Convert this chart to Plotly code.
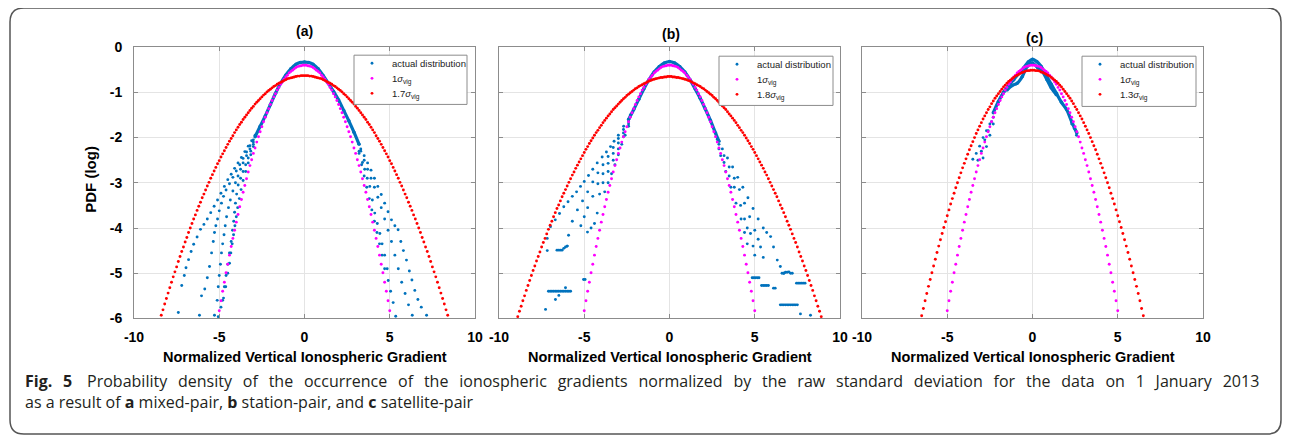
import plotly.graph_objects as go

W, H = 1290, 437
# Measured on earlier renders: the page shows the figure's paper area from
# window pixel 17 to 17 + (W - 18) horizontally and likewise vertically.
# All positions below are reference-window pixels mapped through that.
OX, OY = 17, 17
PW, PH = W - 18, H - 18


def px(x):
    return (x - OX) / PW


def py(y):
    return 1 - (y - OY) / PH


# ---------------- data ----------------
X_TICKS = [-10, -5, 0, 5, 10]
X_TICK_TEXT = ["-10", "-5", "0", "5", "10"]
Y_TICKS = [0, -1, -2, -3, -4, -5, -6]
Y_TICK_TEXT = ["0", "-1", "-2", "-3", "-4", "-5", "-6"]

# normalized gradient grid (dots of the reference Gaussian curves)
X_GRID = [
    -8.9, -8.8, -8.7, -8.6, -8.5, -8.4, -8.3, -8.2, -8.1, -8.0,
    -7.9, -7.8, -7.7, -7.6, -7.5, -7.4, -7.3, -7.2, -7.1, -7.0,
    -6.9, -6.8, -6.7, -6.6, -6.5, -6.4, -6.3, -6.2, -6.1, -6.0,
    -5.9, -5.8, -5.7, -5.6, -5.5, -5.4, -5.3, -5.2, -5.1, -5.0,
    -4.9, -4.8, -4.7, -4.6, -4.5, -4.4, -4.3, -4.2, -4.1, -4.0,
    -3.9, -3.8, -3.7, -3.6, -3.5, -3.4, -3.3, -3.2, -3.1, -3.0,
    -2.9, -2.8, -2.7, -2.6, -2.5, -2.4, -2.3, -2.2, -2.1, -2.0,
    -1.9, -1.8, -1.7, -1.6, -1.5, -1.4, -1.3, -1.2, -1.1, -1.0,
    -0.9, -0.8, -0.7, -0.6, -0.5, -0.4, -0.3, -0.2, -0.1, 0.0,
    0.1, 0.2, 0.3, 0.4, 0.5, 0.6, 0.7, 0.8, 0.9, 1.0,
    1.1, 1.2, 1.3, 1.4, 1.5, 1.6, 1.7, 1.8, 1.9, 2.0,
    2.1, 2.2, 2.3, 2.4, 2.5, 2.6, 2.7, 2.8, 2.9, 3.0,
    3.1, 3.2, 3.3, 3.4, 3.5, 3.6, 3.7, 3.8, 3.9, 4.0,
    4.1, 4.2, 4.3, 4.4, 4.5, 4.6, 4.7, 4.8, 4.9, 5.0,
    5.1, 5.2, 5.3, 5.4, 5.5, 5.6, 5.7, 5.8, 5.9, 6.0,
    6.1, 6.2, 6.3, 6.4, 6.5, 6.6, 6.7, 6.8, 6.9, 7.0,
    7.1, 7.2, 7.3, 7.4, 7.5, 7.6, 7.7, 7.8, 7.9, 8.0,
    8.1, 8.2, 8.3, 8.4, 8.5, 8.6, 8.7, 8.8, 8.9,
]

# 1 sigma_vig curve (same in all panels), x from -5.0 to 5.0
Y_1SIG = [
    -5.83, -5.61, -5.40, -5.20, -4.99, -4.80, -4.60, -4.41, -4.23, -4.05,
    -3.87, -3.70, -3.53, -3.37, -3.21, -3.06, -2.91, -2.76, -2.62, -2.49,
    -2.35, -2.23, -2.10, -1.98, -1.87, -1.76, -1.65, -1.55, -1.45, -1.36,
    -1.27, -1.18, -1.10, -1.03, -0.95, -0.89, -0.82, -0.77, -0.71, -0.66,
    -0.62, -0.57, -0.54, -0.51, -0.48, -0.45, -0.43, -0.42, -0.41, -0.40,
    -0.40,
    -0.40, -0.41, -0.42, -0.43, -0.45, -0.48, -0.51, -0.54, -0.57, -0.62,
    -0.66, -0.71, -0.77, -0.82, -0.89, -0.95, -1.03, -1.10, -1.18, -1.27,
    -1.36, -1.45, -1.55, -1.65, -1.76, -1.87, -1.98, -2.10, -2.23, -2.35,
    -2.49, -2.62, -2.76, -2.91, -3.06, -3.21, -3.37, -3.53, -3.70, -3.87,
    -4.05, -4.23, -4.41, -4.60, -4.80, -4.99, -5.20, -5.40, -5.61, -5.83,
]

# 1.7 sigma_vig curve (panel a), x from -8.4 to 8.4
Y_17SIG = [
    -5.93, -5.81, -5.68, -5.56, -5.44,
    -5.32, -5.20, -5.08, -4.97, -4.86, -4.74, -4.63, -4.52, -4.42, -4.31,
    -4.21, -4.10, -4.00, -3.90, -3.80, -3.71, -3.61, -3.52, -3.43, -3.33,
    -3.25, -3.16, -3.07, -2.99, -2.90, -2.82, -2.74, -2.66, -2.58, -2.51,
    -2.43, -2.36, -2.29, -2.22, -2.15, -2.08, -2.02, -1.96, -1.89, -1.83,
    -1.77, -1.71, -1.66, -1.60, -1.55, -1.50, -1.45, -1.40, -1.35, -1.31,
    -1.26, -1.22, -1.18, -1.14, -1.10, -1.06, -1.03, -0.99, -0.96, -0.93,
    -0.90, -0.87, -0.85, -0.82, -0.80, -0.78, -0.76, -0.74, -0.72, -0.70,
    -0.69, -0.68, -0.67, -0.66, -0.65, -0.64, -0.64, -0.63, -0.63,
    -0.63,
    -0.63, -0.63, -0.64, -0.64, -0.65, -0.66, -0.67, -0.68, -0.69,
    -0.70, -0.72, -0.74, -0.76, -0.78, -0.80, -0.82, -0.85, -0.87, -0.90,
    -0.93, -0.96, -0.99, -1.03, -1.06, -1.10, -1.14, -1.18, -1.22, -1.26,
    -1.31, -1.35, -1.40, -1.45, -1.50, -1.55, -1.60, -1.66, -1.71, -1.77,
    -1.83, -1.89, -1.96, -2.02, -2.08, -2.15, -2.22, -2.29, -2.36, -2.43,
    -2.51, -2.58, -2.66, -2.74, -2.82, -2.90, -2.99, -3.07, -3.16, -3.25,
    -3.33, -3.43, -3.52, -3.61, -3.71, -3.80, -3.90, -4.00, -4.10, -4.21,
    -4.31, -4.42, -4.52, -4.63, -4.74, -4.86, -4.97, -5.08, -5.20, -5.32,
    -5.44, -5.56, -5.68, -5.81, -5.93,
]

# 1.8 sigma_vig curve (panel b), x from -8.9 to 8.9
Y_18SIG = [
    -5.96, -5.84, -5.73, -5.61, -5.50, -5.38, -5.27, -5.16, -5.05, -4.94,
    -4.84, -4.73, -4.63, -4.53, -4.42, -4.32, -4.23, -4.13, -4.03, -3.94,
    -3.85, -3.75, -3.66, -3.57, -3.49, -3.40, -3.31, -3.23, -3.15, -3.07,
    -2.99, -2.91, -2.83, -2.76, -2.68, -2.61, -2.54, -2.47, -2.40, -2.33,
    -2.26, -2.20, -2.13, -2.07, -2.01, -1.95, -1.89, -1.84, -1.78, -1.73,
    -1.67, -1.62, -1.57, -1.52, -1.48, -1.43, -1.38, -1.34, -1.30, -1.26,
    -1.22, -1.18, -1.14, -1.11, -1.07, -1.04, -1.01, -0.98, -0.95, -0.92,
    -0.90, -0.87, -0.85, -0.83, -0.81, -0.79, -0.77, -0.75, -0.74, -0.72,
    -0.71, -0.70, -0.69, -0.68, -0.67, -0.67, -0.66, -0.66, -0.65,
    -0.65,
    -0.65, -0.66, -0.66, -0.67, -0.67, -0.68, -0.69, -0.70, -0.71,
    -0.72, -0.74, -0.75, -0.77, -0.79, -0.81, -0.83, -0.85, -0.87, -0.90,
    -0.92, -0.95, -0.98, -1.01, -1.04, -1.07, -1.11, -1.14, -1.18, -1.22,
    -1.26, -1.30, -1.34, -1.38, -1.43, -1.48, -1.52, -1.57, -1.62, -1.67,
    -1.73, -1.78, -1.84, -1.89, -1.95, -2.01, -2.07, -2.13, -2.20, -2.26,
    -2.33, -2.40, -2.47, -2.54, -2.61, -2.68, -2.76, -2.83, -2.91, -2.99,
    -3.07, -3.15, -3.23, -3.31, -3.40, -3.49, -3.57, -3.66, -3.75, -3.85,
    -3.94, -4.03, -4.13, -4.23, -4.32, -4.42, -4.53, -4.63, -4.73, -4.84,
    -4.94, -5.05, -5.16, -5.27, -5.38, -5.50, -5.61, -5.73, -5.84, -5.96,
]

# 1.3 sigma_vig curve (panel c), x from -6.5 to 6.5
Y_13SIG = [
    -5.94, -5.78, -5.61, -5.45, -5.29, -5.14,
    -4.99, -4.84, -4.69, -4.54, -4.40, -4.26, -4.12, -3.99, -3.86, -3.73,
    -3.60, -3.47, -3.35, -3.23, -3.11, -3.00, -2.89, -2.78, -2.67, -2.57,
    -2.47, -2.37, -2.27, -2.18, -2.09, -2.00, -1.91, -1.83, -1.75, -1.67,
    -1.59, -1.52, -1.45, -1.38, -1.32, -1.25, -1.19, -1.13, -1.08, -1.03,
    -0.98, -0.93, -0.88, -0.84, -0.80, -0.76, -0.73, -0.70, -0.67, -0.64,
    -0.62, -0.60, -0.58, -0.56, -0.55, -0.53, -0.52, -0.52, -0.51,
    -0.51,
    -0.51, -0.52, -0.52, -0.53, -0.55, -0.56, -0.58, -0.60, -0.62,
    -0.64, -0.67, -0.70, -0.73, -0.76, -0.80, -0.84, -0.88, -0.93, -0.98,
    -1.03, -1.08, -1.13, -1.19, -1.25, -1.32, -1.38, -1.45, -1.52, -1.59,
    -1.67, -1.75, -1.83, -1.91, -2.00, -2.09, -2.18, -2.27, -2.37, -2.47,
    -2.57, -2.67, -2.78, -2.89, -3.00, -3.11, -3.23, -3.35, -3.47, -3.60,
    -3.73, -3.86, -3.99, -4.12, -4.26, -4.40, -4.54, -4.69, -4.84, -4.99,
    -5.14, -5.29, -5.45, -5.61, -5.78, -5.94,
]

X_1SIG = X_GRID[39:140]
X_17SIG = X_GRID[5:174]
X_18SIG = X_GRID
X_13SIG = X_GRID[24:155]

# ---- actual distribution, panel (a) ----
A_CORE_X = [-2.9, -2.6, -2.3, -2.0, -1.7, -1.4, -1.1, -0.8, -0.5, -0.25, 0.0,
            0.25, 0.5, 0.8, 1.1, 1.4, 1.7, 2.0, 2.3, 2.6, 2.9, 3.2]
A_CORE_Y = [-1.98, -1.75, -1.52, -1.27, -1.02, -0.8, -0.62, -0.48, -0.38, -0.34, -0.33,
            -0.34, -0.38, -0.48, -0.63, -0.8, -0.98, -1.17, -1.4, -1.63, -1.88, -2.15]
A_TAIL_X = [
    -2.9, -3.1, -3.3, -3.5, -3.7, -3.9, -4.1, -4.3, -4.5, -4.7, -4.9, -5.1, -5.3,
    -5.5, -5.7, -5.9, -6.1, -6.3, -6.5, -6.65, -6.8, -6.95, -7.05, -7.2, -7.4,
    -3.0, -3.2, -3.4, -3.6, -3.8, -4.0, -4.2, -4.4, -4.6, -4.75, -4.87, -5.0, -5.1,
    -5.2, -5.28, -5.35, -5.45, -5.57, -5.7, -5.85, -6.04, -6.16,
    -3.0, -3.2, -3.4, -3.6, -3.75, -3.9, -4.05, -4.2, -4.35, -4.46, -4.57, -4.65,
    -4.72, -4.8, -4.87, -4.93, -5.0, -5.06, -5.12, -5.28,
    -3.0, -3.15, -3.3, -3.45, -3.6, -3.75, -3.89, -3.98, -4.05, -4.1, -4.15, -4.22,
    -4.3, -4.4, -4.5, -4.6, -4.7, -4.8, -4.9, -5.06,
    -3.0, -3.15, -3.3, -3.45, -3.6, -3.72, -3.82, -3.92, -4.0, -4.08, -4.16, -4.24,
    -4.32, -4.4, -4.5, -4.62, -4.75,
    3.3, 3.5, 3.7, 3.9, 4.1, 4.3, 4.5, 4.7, 4.9, 5.1, 5.3, 5.49, 5.65, 5.8, 5.98,
    6.15, 6.3, 6.47, 6.65, 6.85, 7.16,
    3.3, 3.5, 3.7, 3.9, 4.1, 4.3, 4.5, 4.7, 4.9, 5.1, 5.3, 5.5, 5.7, 5.9, 6.1, 6.32,
    3.2, 3.4, 3.53, 3.68, 3.83, 3.98, 4.12, 4.27, 4.42, 4.55, 4.7, 4.85, 4.91, 5.05,
    5.2, 5.35,
    3.2, 3.35, 3.5, 3.65, 3.8, 3.95, 4.1, 4.25, 4.4, 4.55, 4.7,
]
A_TAIL_Y = [
    -1.95, -2.07, -2.19, -2.31, -2.44, -2.56, -2.68, -2.81, -2.93, -3.08, -3.23, -3.38,
    -3.52, -3.66, -3.8, -3.92, -4.03, -4.2, -4.36, -4.52, -4.7, -4.88, -5.05, -5.27, -5.87,
    -2.05, -2.18, -2.32, -2.46, -2.6, -2.74, -2.88, -3.02, -3.16, -3.3, -3.45, -3.62, -3.8,
    -3.95, -4.1, -4.3, -4.55, -4.85, -5.1, -5.35, -5.5, -5.93,
    -2.1, -2.25, -2.4, -2.56, -2.7, -2.85, -3.0, -3.18, -3.38, -3.55, -3.75, -3.95,
    -4.15, -4.35, -4.55, -4.8, -5.05, -5.3, -5.6, -5.93,
    -2.15, -2.3, -2.45, -2.6, -2.75, -2.9, -3.05, -3.25, -3.45, -3.65, -3.85, -4.05,
    -4.3, -4.55, -4.8, -5.05, -5.3, -5.6, -5.75, -5.96,
    -2.2, -2.38, -2.56, -2.75, -2.95, -3.15, -3.35, -3.55, -3.75, -3.95, -4.15, -4.35,
    -4.55, -4.78, -5.0, -5.3, -5.55,
    -2.25, -2.4, -2.56, -2.72, -2.9, -3.08, -3.26, -3.45, -3.64, -3.82, -3.95, -4.04,
    -4.3, -4.5, -4.71, -4.95, -5.15, -5.38, -5.58, -5.75, -5.93,
    -2.3, -2.5, -2.7, -2.9, -3.1, -3.32, -3.55, -3.8, -4.05, -4.3, -4.6, -4.9, -5.2,
    -5.45, -5.7, -5.93,
    -2.3, -2.55, -2.7, -2.9, -3.08, -3.38, -3.67, -3.9, -4.12, -4.35, -4.6, -4.9,
    -5.16, -5.4, -5.65, -5.95,
    -2.35, -2.6, -2.85, -3.1, -3.35, -3.6, -3.85, -4.1, -4.35, -4.6, -4.9,
]

# ---- actual distribution, panel (b) ----
B_CORE_X = [-2.4, -2.1, -1.8, -1.5, -1.2, -0.9, -0.6, -0.3, 0.0, 0.3, 0.6, 0.9,
            1.2, 1.5, 1.8, 2.1, 2.4, 2.7, 2.9]
B_CORE_Y = [-1.6, -1.38, -1.15, -0.92, -0.72, -0.55, -0.43, -0.35, -0.32, -0.35, -0.43,
            -0.55, -0.72, -0.92, -1.13, -1.37, -1.62, -1.9, -2.08]
B_TAIL_X = [
    -2.3, -2.69, -3.0, -3.25, -3.46, -3.7, -3.95, -4.24, -4.5, -4.75, -5.0, -5.22,
    -5.45, -5.7, -5.95, -6.2, -6.45, -6.7, -6.98, -7.17,
    -2.4, -2.7, -3.0, -3.3, -3.6, -3.9, -4.2, -4.5, -4.8, -5.1, -5.4, -5.7, -5.92, -6.0,
    -2.4, -2.7, -3.0, -3.3, -3.6, -3.9, -4.2, -4.5, -4.8, -5.0, -5.2,
    -2.4, -2.7, -3.0, -3.3, -3.6, -3.9, -4.1, -4.24, -4.4, -4.6, -4.81,
    -2.4, -2.6, -2.8, -3.0, -3.2, -3.4, -3.6, -3.8,
    -7.17, -6.6, -6.5, -6.4, -6.3, -6.2, -6.1, -6.0,
    -7.1, -7.0, -6.9, -6.8, -6.7, -6.6, -6.5, -6.4, -6.3, -6.2, -6.1, -6.0, -5.9, -5.8,
    -7.27, -6.69, -6.49, -6.1, -5.04, -4.95,
    2.8, 3.1, 3.4, 3.7, 4.0, 4.3, 4.6, 4.9, 5.2, 5.5, 5.7, 5.93, 6.1, 6.32, 6.5, 6.71,
    2.9, 3.2, 3.5, 3.8, 4.1, 4.4, 4.7, 5.0, 5.2, 5.34, 5.5,
    2.9, 3.2, 3.5, 3.8, 4.17, 4.4, 4.56, 4.75, 4.9, 5.0,
    3.0, 3.3, 3.6, 3.9, 4.2, 4.4, 4.56,
    4.85, 4.95, 5.05, 5.15, 5.25, 5.4, 5.5, 5.6, 5.7, 5.8, 6.1, 6.2,
    6.6, 6.7, 6.8, 6.9, 7.0, 7.1, 7.2, 7.45, 7.55, 7.65, 7.75, 7.85, 7.95,
    6.5, 6.6, 6.7, 6.8, 6.9, 7.0, 7.1, 7.2, 7.3, 7.4, 7.5, 7.68, 8.27,
]
B_TAIL_Y = [
    -1.5, -1.75, -1.95, -2.08, -2.2, -2.32, -2.43, -2.56, -2.7, -2.84, -2.97, -3.08,
    -3.2, -3.3, -3.42, -3.53, -3.68, -3.82, -3.97, -4.23,
    -1.6, -1.82, -2.02, -2.22, -2.42, -2.6, -2.78, -2.98, -3.2, -3.4, -3.6, -3.85, -4.16, -4.4,
    -1.65, -1.9, -2.12, -2.35, -2.57, -2.8, -3.02, -3.3, -3.55, -3.75, -3.95,
    -1.7, -1.98, -2.25, -2.5, -2.75, -3.0, -3.25, -3.67, -3.9, -4.0, -4.09,
    -1.75, -1.95, -2.15, -2.38, -2.6, -2.8, -3.0, -3.2,
    -4.5, -4.49, -4.49, -4.49, -4.49, -4.45, -4.42, -4.4,
    -5.4, -5.4, -5.4, -5.4, -5.4, -5.4, -5.4, -5.4, -5.4, -5.4, -5.4, -5.4, -5.4, -5.4,
    -5.8, -5.58, -5.49, -5.32, -5.14, -5.14,
    -2.04, -2.25, -2.45, -2.65, -2.88, -3.1, -3.33, -3.57, -3.8, -4.0, -4.1, -4.19,
    -4.42, -4.71, -4.85, -5.0,
    -2.15, -2.4, -2.65, -2.9, -3.15, -3.45, -3.75, -4.05, -4.25, -4.42, -4.65,
    -2.25, -2.55, -2.85, -3.1, -3.5, -3.8, -4.0, -4.12, -4.4, -4.6,
    -2.4, -2.75, -3.1, -3.45, -3.8, -4.1, -4.35,
    -5.1, -5.1, -5.1, -5.1, -5.1, -5.27, -5.27, -5.27, -5.27, -5.27, -5.33, -5.33,
    -5.0, -5.0, -4.98, -4.98, -4.97, -5.0, -5.0, -5.22, -5.22, -5.22, -5.22, -5.22, -5.22,
    -5.7, -5.7, -5.7, -5.7, -5.7, -5.7, -5.7, -5.7, -5.7, -5.7, -5.7, -5.9, -5.93,
]

# ---- actual distribution, panel (c) ----
C_CORE_X = [-2.3, -2.0, -1.7, -1.4, -1.1, -0.8, -0.5, -0.25, 0.0, 0.25, 0.5, 0.8,
            1.1, 1.4, 1.7, 2.0, 2.3, 2.6]
C_CORE_Y = [-1.45, -1.2, -1.0, -0.85, -0.72, -0.58, -0.45, -0.33, -0.27, -0.32, -0.42,
            -0.62, -0.82, -1.02, -1.22, -1.38, -1.65, -1.9]
C_CORE2_X = [-1.5, -1.2, -0.9, -0.6, -0.3, 0.0, 0.3, 0.6, 0.85, 1.1, 1.4]
C_CORE2_Y = [-0.95, -0.85, -0.8, -0.65, -0.42, -0.35, -0.45, -0.55, -0.72, -0.9, -1.05]
C_TAIL_X = [
    -2.3, -2.5, -2.7, -2.9, -3.1, -3.3, -3.5,
    -2.4, -2.6, -2.8, -3.0, -3.2,
    -2.3, -2.5, -2.7, -2.9,
    2.3, 2.45, 2.58,
]
C_TAIL_Y = [
    -1.55, -1.7, -1.85, -2.0, -2.19, -2.35, -2.48,
    -1.65, -1.85, -2.05, -2.3, -2.5,
    -1.7, -1.95, -2.2, -2.45,
    -1.7, -1.8, -1.95,
]

PANEL_TITLES = ["(a)", "(b)", "(c)"]
WIDE_NAMES = ["1.7<i>σ</i><sub>vig</sub>", "1.8<i>σ</i><sub>vig</sub>", "1.3<i>σ</i><sub>vig</sub>"]
NARROW_NAME = "1<i>σ</i><sub>vig</sub>"
ACTUAL_NAME = "actual distribution"
X_TITLE = "Normalized Vertical Ionospheric Gradient"
Y_TITLE = "PDF (log)"
SP = " \u2005\u2006"  # justified-looking word gap
CAPTION_1_WORDS = ["Probability", "density", "of", "the", "occurrence", "of", "the",
                   "ionospheric", "gradients", "normalized", "by", "the", "raw", "standard",
                   "deviation", "for", "the", "data", "on", "1", "January", "2013"]
CAPTION_1 = "<b>Fig." + SP + "5</b>" + SP + "\u2005" + SP.join(CAPTION_1_WORDS)
CAPTION_2 = ("as a result of <b>a</b> mixed-pair, <b>b</b> station-pair, and "
             "<b>c</b> satellite-pair")

assert len(Y_1SIG) == len(X_1SIG)
assert len(Y_17SIG) == len(X_17SIG)
assert len(Y_18SIG) == len(X_18SIG)
assert len(Y_13SIG) == len(X_13SIG)
assert len(A_TAIL_X) == len(A_TAIL_Y)
assert len(B_TAIL_X) == len(B_TAIL_Y)
assert len(C_TAIL_X) == len(C_TAIL_Y)

# ---------------- styling / layout ----------------
BLUE = "#0072BD"
MAGENTA = "#FF00FF"
RED = "#FF0000"
AX_FONT = "Liberation Sans, Arial, sans-serif"
CAP_FONT = "Open Sans, Noto Sans, sans-serif"

PANEL_PX = [(133, 474), (498, 839), (861, 1202)]
TOP_PX, BOT_PX = 48, 318
LEGEND_BOX_PX = [(353, 56, 466, 105), (718, 57, 832, 106), (1081, 57, 1195, 107)]
TITLE_PX = [(303, 32), (670, 35), (1033, 39)]

panels = [
    dict(core=[(A_CORE_X, A_CORE_Y)], tail=(A_TAIL_X, A_TAIL_Y), wide=(X_17SIG, Y_17SIG)),
    dict(core=[(B_CORE_X, B_CORE_Y)], tail=(B_TAIL_X, B_TAIL_Y), wide=(X_18SIG, Y_18SIG)),
    dict(core=[(C_CORE_X, C_CORE_Y), (C_CORE2_X, C_CORE2_Y)], tail=(C_TAIL_X, C_TAIL_Y),
         wide=(X_13SIG, Y_13SIG)),
]

fig = go.Figure()
MS = 2.9

for i, p in enumerate(panels):
    s = "" if i == 0 else str(i + 1)
    xa, ya = "x" + s, "y" + s
    for cx, cy in p["core"]:
        fig.add_trace(go.Scatter(x=cx, y=cy, mode="lines+markers", xaxis=xa, yaxis=ya,
                                 line=dict(color=BLUE, width=3.2, shape="spline"),
                                 marker=dict(color=BLUE, size=3.5),
                                 showlegend=False, hoverinfo="skip"))
    tx, ty = p["tail"]
    fig.add_trace(go.Scatter(x=tx, y=ty, mode="markers", xaxis=xa, yaxis=ya,
                             marker=dict(color=BLUE, size=MS), name=ACTUAL_NAME,
                             showlegend=False))
    fig.add_trace(go.Scatter(x=X_1SIG, y=Y_1SIG, mode="markers", xaxis=xa, yaxis=ya,
                             marker=dict(color=MAGENTA, size=MS), name=NARROW_NAME,
                             showlegend=False))
    wx, wy = p["wide"]
    fig.add_trace(go.Scatter(x=wx, y=wy, mode="markers", xaxis=xa, yaxis=ya,
                             marker=dict(color=RED, size=MS), name=WIDE_NAMES[i],
                             showlegend=False))

axis_common = dict(
    showline=True, linecolor="#8c8c8c", linewidth=1, mirror="ticks",
    ticks="inside", ticklen=4, tickcolor="#8c8c8c", tickwidth=1,
    showgrid=True, gridcolor="#e4e4e4", gridwidth=1, zeroline=False,
    tickfont=dict(family=AX_FONT, size=14, color="black", weight="bold"),
    tickmode="array",
)

layout = dict(
    width=W, height=H, margin=dict(l=0, r=0, t=0, b=0),
    paper_bgcolor="white", plot_bgcolor="white",
    showlegend=False,
)
for i, (x0, x1) in enumerate(PANEL_PX):
    s = "" if i == 0 else str(i + 1)
    layout["xaxis" + s] = dict(axis_common, domain=[px(x0), px(x1)], range=[-10, 10],
                               tickvals=X_TICKS, ticktext=X_TICK_TEXT,
                               anchor="y" + s, ticklabelstandoff=6)
    layout["yaxis" + s] = dict(axis_common, domain=[py(BOT_PX), py(TOP_PX)], range=[-6, 0],
                               tickvals=Y_TICKS, ticktext=Y_TICK_TEXT,
                               anchor="x" + s, showticklabels=(i == 0),
                               ticklabelstandoff=8)

annotations = []
shapes = []


def text_ann(text, x, y, size, xanchor="center", font=AX_FONT, color="black", angle=0):
    return dict(text=text, x=px(x), y=py(y), xref="paper", yref="paper", showarrow=False,
                xanchor=xanchor, yanchor="middle", textangle=angle,
                font=dict(family=font, size=size, color=color))


for i, (tx_, ty_) in enumerate(TITLE_PX):
    annotations.append(text_ann("<b>%s</b>" % PANEL_TITLES[i], tx_, ty_, 14))
for (x0, x1) in PANEL_PX:
    annotations.append(text_ann("<b>%s</b>" % X_TITLE, (x0 + x1) / 2, 356, 14.5))
annotations.append(text_ann("<b>%s</b>" % Y_TITLE, 90, 180, 15, angle=-90))
annotations.append(text_ann(CAPTION_1, 22, 380, 16, xanchor="left", font=CAP_FONT,
                            color="#231f20"))
annotations.append(text_ann(CAPTION_2, 22, 401, 16, xanchor="left", font=CAP_FONT,
                            color="#231f20"))

# legend boxes (drawn per panel)
for i, (bx0, by0, bx1, by1) in enumerate(LEGEND_BOX_PX):
    shapes.append(dict(type="rect", xref="paper", yref="paper",
                       x0=px(bx0), x1=px(bx1), y0=py(by1), y1=py(by0),
                       line=dict(color="#8c8c8c", width=1), fillcolor="white",
                       layer="above"))
    names = [ACTUAL_NAME, NARROW_NAME, WIDE_NAMES[i]]
    colors = [BLUE, MAGENTA, RED]
    for k in range(3):
        ry = by0 + 8 + 15 * k
        mx = bx0 + 18
        shapes.append(dict(type="circle", xref="paper", yref="paper",
                           x0=px(mx - 1.4), x1=px(mx + 1.4), y0=py(ry + 1.4), y1=py(ry - 1.4),
                           line=dict(width=0), fillcolor=colors[k], layer="above"))
        annotations.append(text_ann(names[k], bx0 + 36, ry + (1 if k else 0), 9.5,
                                    xanchor="left", color="#222"))

# outer rounded frame (kept inside the visible page area)
L_, R_, T_, B_, RAD = 9, 1280, 9, 433, 14
path = (
    f"M {px(L_ + RAD)} {py(T_)} L {px(R_ - RAD)} {py(T_)} "
    f"Q {px(R_)} {py(T_)} {px(R_)} {py(T_ + RAD)} "
    f"L {px(R_)} {py(B_ - RAD)} Q {px(R_)} {py(B_)} {px(R_ - RAD)} {py(B_)} "
    f"L {px(L_ + RAD)} {py(B_)} Q {px(L_)} {py(B_)} {px(L_)} {py(B_ - RAD)} "
    f"L {px(L_)} {py(T_ + RAD)} Q {px(L_)} {py(T_)} {px(L_ + RAD)} {py(T_)} Z"
)
shapes.append(dict(type="path", path=path, xref="paper", yref="paper",
                   line=dict(color="#555555", width=1.5), layer="above"))

layout["annotations"] = annotations
layout["shapes"] = shapes

fig.update_layout(**layout)
fig.write_html("out.html", config={"displayModeBar": False})
